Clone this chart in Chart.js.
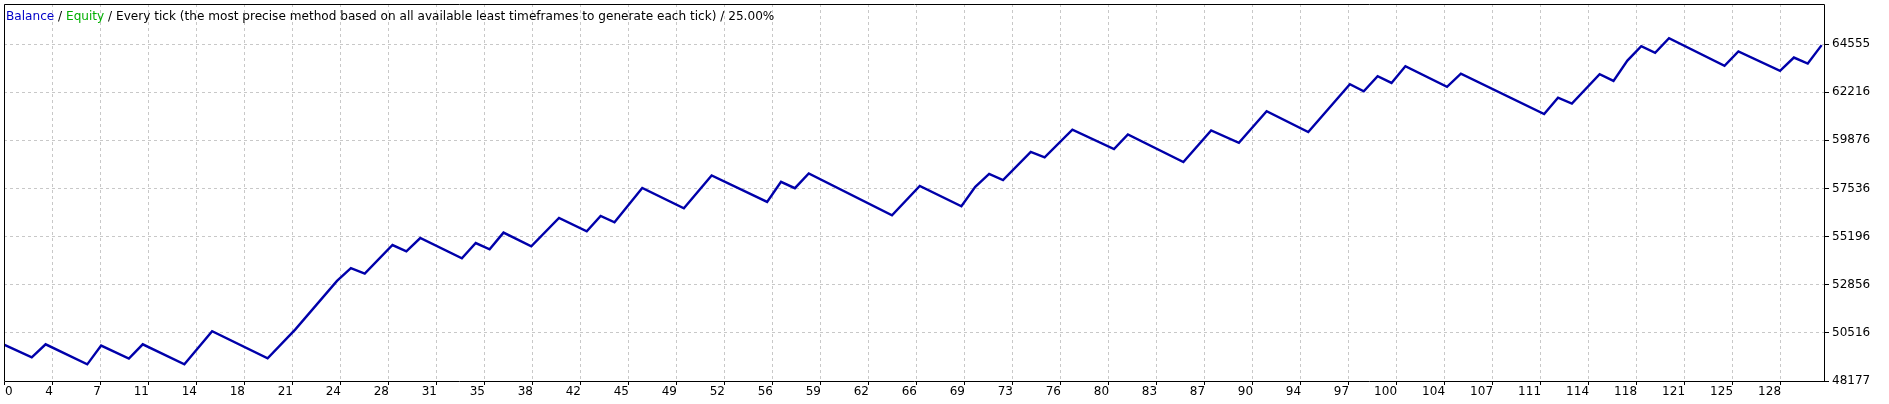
<!DOCTYPE html>
<html><head><meta charset="utf-8">
<script src="https://cdn.jsdelivr.net/npm/chart.js@4"></script>
<style>html,body{margin:0;padding:0;background:#fff;overflow:hidden}canvas{display:block}</style>
</head><body>
<canvas id="c" width="1889" height="404"></canvas>
<script>
// ---- data ----
const tradeNumbers = [0,2,3,6,7,9,10,13,15,19,21,24,25,26,28,29,30,33,34,35,36,38,40,42,43,44,46,49,51,55,56,57,58,64,66,69,70,71,72,74,75,77,80,81,85,87,89,91,94,97,98,99,100,101,104,105,111,112,113,115,116,117,118,119,120,124,125,128,129,130,131];
const balanceValues = [49946,49327,49961,48986,49898,49264,49961,48986,50595,49279,50687,53042,53666,53393,54787,54480,55128,54138,54884,54577,55391,54723,56103,55455,56200,55893,57565,56576,58170,56883,57858,57551,58267,56234,57663,56673,57614,58248,57940,59320,59047,60392,59452,60168,58818,60363,59759,61289,60280,62605,62264,62995,62669,63483,62474,63122,61158,61952,61660,63093,62766,63756,64458,64131,64847,63497,64194,63254,63902,63609,64506];
const xTickLabels = ['0','4','7','11','14','18','21','24','28','31','35','38','42','45','49','52','56','59','62','66','69','73','76','80','83','87','90','94','97','100','104','107','111','114','118','121','125','128'];
const yTickLabels = ['48177','50516','52856','55196','57536','59876','62216','64555'];
const titleParts = [['Balance','#0000c8'],[' / ','#000000'],['Equity','#00b000'],[' / Every tick (the most precise method based on all available least timeframes to generate each tick) / 25.00%','#000000']];

const X_STEP = 128/37;
const X_MAX = 131.17;
const Y_MIN = 48177, Y_MAX = 66505;
const FONT = '12px "DejaVu Sans"';
const TITLE_FONT = '12.1px "DejaVu Sans"';

const points = tradeNumbers.map((t,i)=>({x:t,y:balanceValues[i]}));

const overlay = {
  id:'overlay',
  afterDraw(chart){
    const ctx = chart.ctx, a = chart.chartArea;
    ctx.save();
    ctx.strokeStyle = '#000'; ctx.lineWidth = 1;
    const l = Math.round(a.left)+0.5, r = Math.round(a.right)+0.5, t = Math.round(a.top)+0.5, b = Math.round(a.bottom)+0.5;
    ctx.beginPath(); ctx.moveTo(l,t); ctx.lineTo(r,t); ctx.lineTo(r,b); ctx.lineTo(l,b); ctx.closePath(); ctx.stroke();
    ctx.font = FONT; ctx.fillStyle = '#000'; ctx.textBaseline = 'middle';
    const xs = chart.scales.x;
    xTickLabels.forEach((lab,k)=>{
      const px = xs.getPixelForValue(k*X_STEP);
      ctx.textAlign = k===0 ? 'left' : 'right';
      ctx.fillText(lab, px+1, 392);
    });
    ctx.textAlign='left';
    ctx.font = TITLE_FONT;
    let x = 6;
    titleParts.forEach(([s,c])=>{ ctx.fillStyle=c; ctx.fillText(s,x,17); x += ctx.measureText(s).width; });
    ctx.restore();
  }
};

function noPad(s){ s.paddingTop=0; s.paddingBottom=0; s.paddingLeft=0; s.paddingRight=0; }

new Chart(document.getElementById('c'), {
  type:'line',
  data:{datasets:[{data:points, borderColor:'#0000aa', borderWidth:2.4, pointRadius:0, tension:0, fill:false}]},
  options:{
    responsive:false, animation:false, devicePixelRatio:1,
    layout:{padding:{left:4,top:4,right:0,bottom:0}},
    plugins:{legend:{display:false}, tooltip:{enabled:false}},
    scales:{
      x:{type:'linear', min:0, max:X_MAX,
        afterBuildTicks(s){ s.ticks = xTickLabels.map((l,k)=>({value:k*X_STEP})); },
        afterFit(s){ s.height = 23; noPad(s); },
        ticks:{display:false, autoSkip:false},
        grid:{color:'#c8c8c8', drawTicks:true, tickLength:4, tickColor:'#000', tickBorderDash:[]},
        border:{display:false, dash:[3,3]}
      },
      y:{type:'linear', position:'right', min:Y_MIN, max:Y_MAX,
        afterBuildTicks(s){ s.ticks = yTickLabels.map(v=>({value:Number(v)})); },
        afterFit(s){ s.width = 65; noPad(s); },
        ticks:{autoSkip:false, font:{family:'DejaVu Sans', size:12}, color:'#000', padding:3, callback:(v)=>String(v)},
        grid:{color:'#c8c8c8', drawTicks:true, tickLength:5, tickColor:'#000', tickBorderDash:[]},
        border:{display:false, dash:[3,3]}
      }
    }
  },
  plugins:[overlay]
});
</script>
</body></html>
